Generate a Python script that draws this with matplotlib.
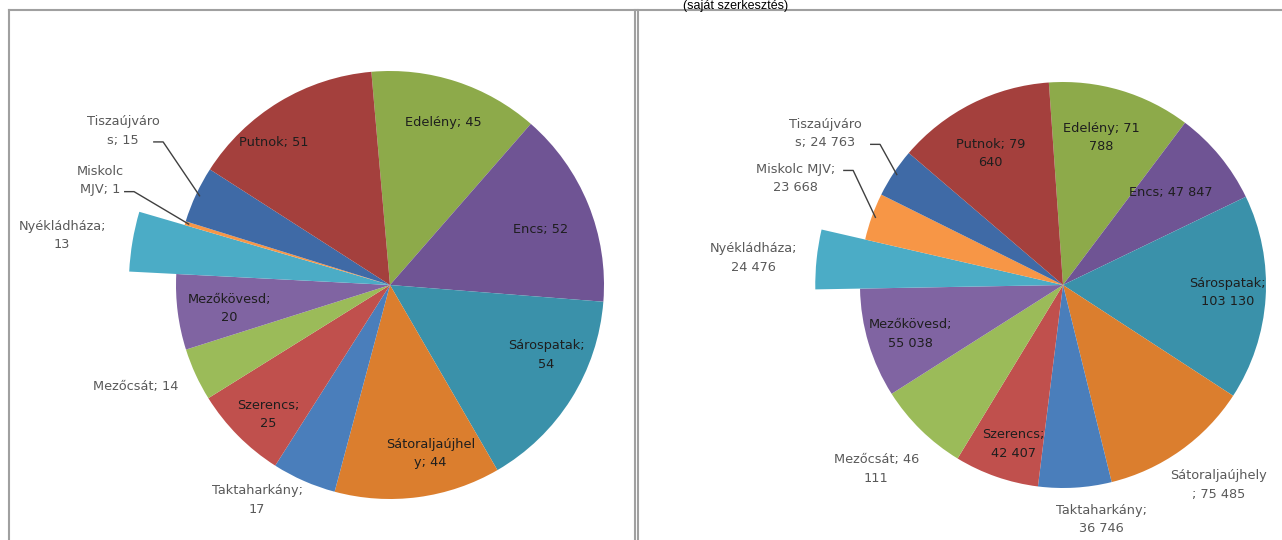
import matplotlib
matplotlib.use("Agg")
import matplotlib.pyplot as plt
import numpy as np

# ---------------- data ----------------
categories = ["Edelény", "Encs", "Sárospatak", "Sátoraljaújhely", "Taktaharkány",
              "Szerencs", "Mezőcsát", "Mezőkövesd", "Nyékládháza", "Miskolc MJV",
              "Tiszaújváros", "Putnok"]
settlements = [45, 52, 54, 44, 17, 25, 14, 20, 13, 1, 15, 51]
area_ha = [71788, 47847, 103130, 75485, 36746, 42407, 46111, 55038, 24476, 23668, 24763, 79640]
caption = "(saját szerkesztés)"

# ---------------- style ----------------
colors = ["#8DAA4A", "#6F5494", "#3A91AA", "#DB7E2E", "#4A7EBB", "#C0504D",
          "#9BBB59", "#8064A2", "#4BACC6", "#F79646", "#3F6AA6", "#A4403D"]
exploded_idx = 8
left_breaks = [None, None, 11, 14, 13, 9, None, 11, 12, 7, 11, None]
right_breaks = [11, None, 11, 15, 13, 9, 12, 11, 12, 12, 11, 10]
left_rf = [0.80, 0.75, 0.80, 0.81, 1.18, 0.83, 1.28, 0.76, 1.55, 1.44, 1.44, 0.86]
left_nudge = [0, -2, 8, 6, -8, 2, -3, 1, 1, -3, -5, 8]
right_rf = [0.75, 0.70, 0.81, 1.25, 1.17, 0.82, 1.29, 0.79, 1.53, 1.42, 1.39, 0.74]
right_nudge = [2, 1, 1, 2.5, 6, 2, -1, 1, 1, -2, 1, 2]


def fmt(v):
    return f"{v:,}".replace(",", " ")


def brk(s, k):
    if k is None:
        return s
    if s[k] == " ":
        return s[:k] + "\n" + s[k + 1:]
    return s[:k] + "\n" + s[k:]


W, H = 1282, 540
fig = plt.figure(figsize=(W / 100, H / 100), dpi=100)
ax = fig.add_axes([0, 0, 1, 1])

FONT = "DejaVu Sans"
FS = 9.3


def draw_pie(values, cx_px, cy_px, r, start, breaks, rf, nudge, leaders):
    cy = H - cy_px
    wedges, _ = ax.pie(values, colors=colors, startangle=start, counterclock=False,
                       center=(cx_px, cy), radius=r, frame=True,
                       explode=[0.06 if i == exploded_idx else 0 for i in range(len(values))],
                       wedgeprops=dict(linewidth=0))
    wedges[exploded_idx].set_radius(r * 1.22)
    for i, w in enumerate(wedges):
        mid = np.deg2rad((w.theta1 + w.theta2) / 2 + nudge[i])
        f = rf[i]
        x = cx_px + f * r * np.cos(mid)
        y = cy + f * r * np.sin(mid)
        txt = brk(f"{categories[i]}; {fmt(values[i])}", breaks[i])
        inside = f < 1
        ax.text(x, y, txt, ha="center", va="center", fontsize=FS, family=FONT,
                color="#1E1E1E" if inside else "#595959", linespacing=1.55)
        if i in leaders:
            dx, dy = leaders[i]
            midr = np.deg2rad((w.theta1 + w.theta2) / 2)
            ex = cx_px + 0.98 * r * np.cos(midr)
            ey = cy + 0.98 * r * np.sin(midr)
            sx, sy = x + dx, y + dy
            ax.plot([sx, sx + 10, ex], [sy, sy, ey], color="#404040", lw=1.0,
                    solid_capstyle="butt")


draw_pie(settlements, 390, 285, 214, 95.0, left_breaks, left_rf, left_nudge,
         {9: (24, -11), 10: (30, -11)})
draw_pie(area_ha, 1063, 285, 203, 94.0, right_breaks, right_rf, right_nudge,
         {9: (48, 8), 10: (45, -11)})

# panel borders
gray = "#A0A0A0"
lw = 1.5
ax.plot([9, 9], [0, 530], color=gray, lw=lw)
ax.plot([9, 636], [530, 530], color=gray, lw=lw)
ax.plot([635, 635], [0, 530], color=gray, lw=lw)
ax.plot([638, 638], [0, 530], color=gray, lw=lw)
ax.plot([638, W], [530, 530], color=gray, lw=lw)

ax.text(683, 539.5, caption, ha="left", va="top", fontsize=9, family="Liberation Sans",
        color="black")

ax.set_xlim(0, W)
ax.set_ylim(0, H)
ax.set_aspect("auto")
ax.axis("off")
fig.savefig("out.png", dpi=100)
